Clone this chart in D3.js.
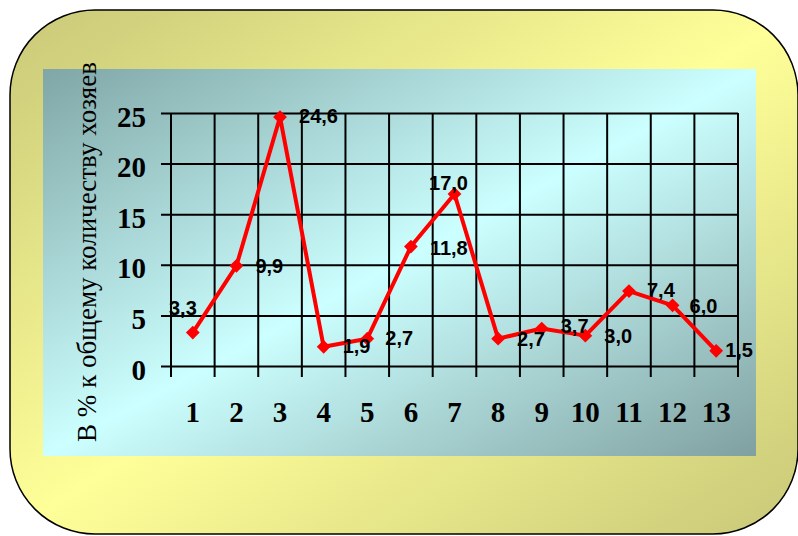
<!DOCTYPE html>
<html>
<head>
<meta charset="utf-8">
<script src="https://cdn.jsdelivr.net/npm/d3@7/dist/d3.min.js"></script>
<style>
  html, body { margin: 0; padding: 0; background: #ffffff; }
  svg { display: block; }
</style>
</head>
<body>
<svg id="chart" width="798" height="536"></svg>
<script>
// Share of owners per group, percent
const categories = ["1","2","3","4","5","6","7","8","9","10","11","12","13"];
const values = [3.3, 9.9, 24.6, 1.9, 2.7, 11.8, 17.0, 2.7, 3.7, 3.0, 7.4, 6.0, 1.5];
const valueLabels = ["3,3","9,9","24,6","1,9","2,7","11,8","17,0","2,7","3,7","3,0","7,4","6,0","1,5"];
const yTicks = [0, 5, 10, 15, 20, 25];
const yTitle = "В % к общему количеству хозяев";

// Label placement relative to each marker: [dx, dy, anchor]
const labelPlacement = [
  [4, -18, "end"], [19, 7, "start"], [19, 6, "start"], [19, 6.5, "start"],
  [18, 6, "start"], [19, 8, "start"], [-6, -4, "middle"], [19, 7, "start"],
  [19, 4, "start"], [19, 7.5, "start"], [18, 6, "start"], [17, 8, "start"],
  [9, 6, "start"]
];

const svg = d3.select("#chart");
const defs = svg.append("defs");

const outerGrad = defs.append("linearGradient")
  .attr("id", "outerGrad").attr("x1", "0").attr("y1", "0").attr("x2", "1").attr("y2", "1");
outerGrad.append("stop").attr("offset", "0").attr("stop-color", "#c8c878");
outerGrad.append("stop").attr("offset", "0.5").attr("stop-color", "#ffff99");
outerGrad.append("stop").attr("offset", "1").attr("stop-color", "#c8c878");

const innerGrad = defs.append("linearGradient")
  .attr("id", "innerGrad").attr("x1", "0").attr("y1", "0").attr("x2", "1").attr("y2", "1");
innerGrad.append("stop").attr("offset", "0").attr("stop-color", "#80a6a6");
innerGrad.append("stop").attr("offset", "0.5").attr("stop-color", "#ccffff");
innerGrad.append("stop").attr("offset", "1").attr("stop-color", "#80a0a0");

// Rounded frame
svg.append("rect")
  .attr("x", 10).attr("y", 10).attr("width", 788).attr("height", 524)
  .attr("rx", 85).attr("ry", 85)
  .attr("fill", "url(#outerGrad)")
  .attr("stroke", "#000").attr("stroke-width", 1.5);

// Chart panel
svg.append("rect")
  .attr("x", 43).attr("y", 69).attr("width", 713).attr("height", 387)
  .attr("fill", "url(#innerGrad)");

const plot = { left: 171, right: 738, top: 113, bottom: 366 };

const x = d3.scaleBand().domain(categories).range([plot.left, plot.right]).padding(0);
const y = d3.scaleLinear().domain([0, 25]).range([plot.bottom, plot.top]);

// Horizontal grid + y tick labels
const yAxis = d3.axisLeft(y)
  .tickValues(yTicks)
  .tickSize(-(plot.right - plot.left + 10))
  .tickPadding(15)
  .tickFormat(d3.format("d"));

const yG = svg.append("g")
  .attr("transform", `translate(${plot.left - 10},0)`)
  .call(yAxis);
yG.select(".domain").remove();
yG.selectAll(".tick line").attr("stroke", "#000").attr("stroke-width", 2);
yG.selectAll(".tick text")
  .attr("dy", null).attr("y", 13)
  .attr("font-family", "'Liberation Serif', 'Times New Roman', serif")
  .attr("font-weight", "bold").attr("font-size", 29).attr("fill", "#000");

// Vertical grid at category boundaries, extending below the axis as ticks
const bounds = d3.range(categories.length + 1).map(i => plot.left + i * x.step());
svg.append("g").selectAll("line").data(bounds).join("line")
  .attr("x1", d => d).attr("x2", d => d)
  .attr("y1", plot.top).attr("y2", plot.bottom + 11)
  .attr("stroke", "#000").attr("stroke-width", 2);

// X tick labels
const xAxis = d3.axisBottom(x).tickSize(0).tickPadding(0);
const xG = svg.append("g").attr("transform", `translate(0,${plot.bottom})`).call(xAxis);
xG.select(".domain").remove();
xG.selectAll(".tick text")
  .attr("dy", null).attr("y", 56)
  .attr("font-family", "'Liberation Serif', 'Times New Roman', serif")
  .attr("font-weight", "bold").attr("font-size", 29).attr("fill", "#000");

// Y axis title
svg.append("text")
  .attr("transform", "translate(96,252) rotate(-90)")
  .attr("text-anchor", "middle")
  .attr("font-family", "'Liberation Serif', 'Times New Roman', serif")
  .attr("font-size", 27).attr("fill", "#000")
  .text(yTitle);

// Series line
const cx = (d, i) => x(categories[i]) + x.bandwidth() / 2;
const line = d3.line().x((d, i) => cx(d, i)).y(d => y(d));
svg.append("path")
  .datum(values)
  .attr("d", line)
  .attr("fill", "none")
  .attr("stroke", "#ff0000").attr("stroke-width", 4)
  .attr("stroke-linejoin", "round");

// Diamond markers
const diamond = d3.symbol().type(d3.symbolSquare).size(95);
svg.append("g").selectAll("path").data(values).join("path")
  .attr("d", diamond)
  .attr("transform", (d, i) => `translate(${cx(d, i)},${y(d)}) rotate(45)`)
  .attr("fill", "#ff0000");

// Value labels
svg.append("g").selectAll("text").data(values).join("text")
  .attr("x", (d, i) => cx(d, i) + labelPlacement[i][0])
  .attr("y", (d, i) => y(d) + labelPlacement[i][1])
  .attr("text-anchor", (d, i) => labelPlacement[i][2])
  .attr("font-family", "'Liberation Sans', Arial, sans-serif")
  .attr("font-weight", "bold").attr("font-size", 20).attr("fill", "#000")
  .text((d, i) => valueLabels[i]);
</script>
</body>
</html>
